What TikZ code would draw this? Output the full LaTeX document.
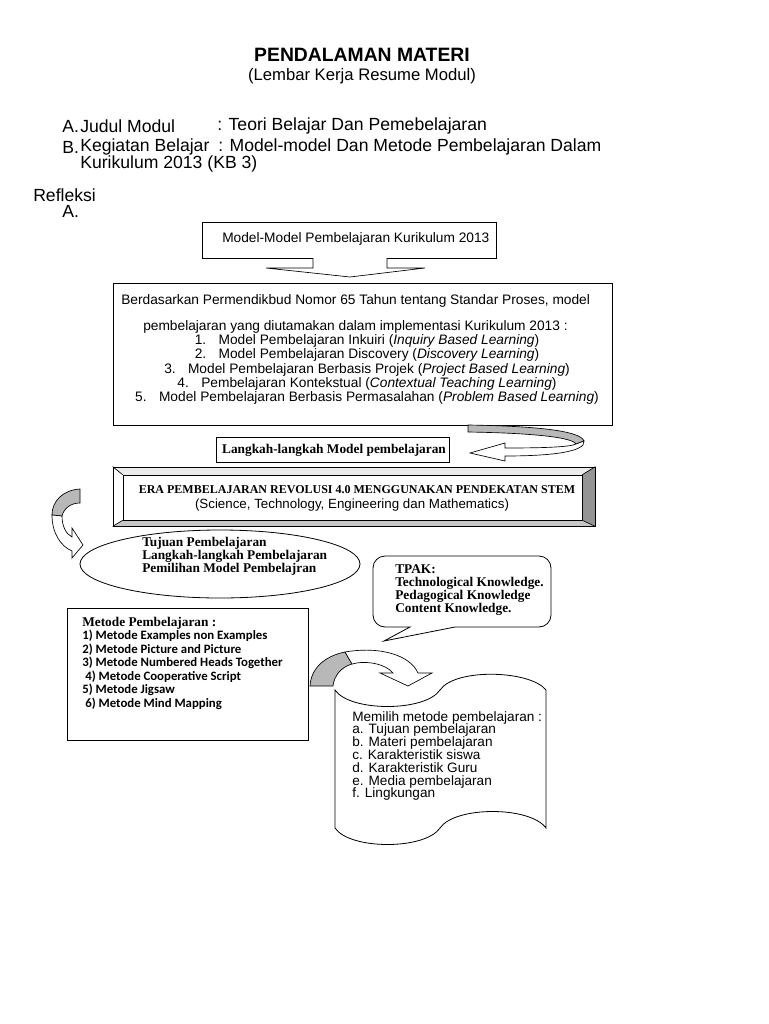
\documentclass[tikz,border=0pt]{standalone}
\usepackage{fontspec}
\setmainfont{Liberation Sans}
\newfontfamily\timesf{Liberation Serif}
\newfontfamily\calibrif{Carlito}
\usepackage{tikz}
\usetikzlibrary{shapes.geometric}
\tikzstyle{plain}=[draw=black,fill=white,line width=0.6pt]
\tikzstyle{band}=[draw=black,fill=black!28,line width=0.5pt]
\tikzstyle{blockarrow}=[draw=black,fill=white,line width=0.5pt]
\tikzstyle{head}=[inner sep=0pt,anchor=west,font=\fontsize{13.2}{15}\selectfont]
\tikzstyle{txt}=[inner sep=0pt,anchor=west,font=\fontsize{10.3}{12}\selectfont]
\tikzstyle{serif}=[inner sep=0pt,anchor=west,font=\timesf\bfseries\fontsize{10}{12}\selectfont]
\tikzstyle{cal}=[inner sep=0pt,anchor=west,font=\calibrif\bfseries\fontsize{9.6}{11}\selectfont]

\begin{document}
\begin{tikzpicture}[x=0.75pt,y=-0.75pt]
        \useasboundingbox (0,0) rectangle (768,1024);
        % header
        \node[font=\bfseries\fontsize{14.5}{17}\selectfont] (title) at (362,55) {PENDALAMAN MATERI};
        \node[font=\fontsize{12.5}{15}\selectfont] (subtitle) at (362,76) {(Lembar Kerja Resume Modul)};
        \node[head] (ha) at (62,126) {A.};
        \node[head] (hajudul) at (80,126) {Judul Modul};
        \node[head] (hateori) at (217,126) {: Teori Belajar Dan Pemebelajaran};
        \node[head] (hb) at (62,147) {B.};
        \node[head] (hbkeg) at (80,147) {Kegiatan Belajar};
        \node[head] (hbmodel) at (218,147) {: Model-model Dan Metode Pembelajaran Dalam};
        \node[head] (hbkur) at (80,164) {Kurikulum 2013 (KB 3)};
        \node[head] (refleksi) at (33,195) {Refleksi};
        \node[head] (ra) at (62,211) {A.};

        % model box and block arrow down
        \node[plain,minimum width=220.5pt,minimum height=27pt] (kurikulum) at (349,240) {};
        \node[txt] (kurtext) at (222,239) {Model-Model Pembelajaran Kurikulum 2013};
        \draw[blockarrow] (313,258) -- (313,268) -- (266,268) -- (350,277) -- (425,268) -- (387,268) -- (387,258);

        % standar proses box
        \node[plain,minimum width=374.25pt,minimum height=106.5pt] (standar) at (362.5,354) {};
        \node[txt] (std1) at (121,301) {Berdasarkan Permendikbud Nomor 65 Tahun tentang Standar Proses, model};
        \node[txt] (std2) at (143,327) {pembelajaran yang diutamakan dalam implementasi Kurikulum 2013 :};
        \foreach \t [count=\i] in {Model Pembelajaran Inkuiri (\textit{Inquiry Based Learning}),
            Model Pembelajaran Discovery (\textit{Discovery Learning}),
            Model Pembelajaran Berbasis Projek (\textit{Project Based Learning}),
            Pembelajaran Kontekstual (\textit{Contextual Teaching Learning}),
            Model Pembelajaran Berbasis Permasalahan (\textit{Problem Based Learning})}{
          \node[txt,anchor=center] (item\i) at (367,{341+14.3*(\i-1)}) {\i.\hspace{0.9em}\t};
        }

        % curved arrow back to langkah
        \draw[band] (468,425) .. controls (530,426) and (580,430) .. (584,441) -- (576,444) .. controls (572,437) and (530,433) .. (468,432) -- cycle;
        \draw[blockarrow] (584,441) .. controls (586,452) and (550,456) .. (505,456) -- (505,461) -- (470,453) -- (505,443) -- (505,448) .. controls (545,448) and (570,447) .. (576,444) -- cycle;
        \node[plain,minimum width=174.75pt,minimum height=18.75pt] (langkah) at (332.5,449.5) {};
        \node[serif,anchor=center] (langtext) at (334,450) {Langkah-langkah Model pembelajaran};

        % bevel box
        \fill[black!8] (113,467) -- (595,467) -- (582,475) -- (123,475) -- cycle;
        \fill[white] (113,467) -- (123,475) -- (123,520) -- (113,526) -- cycle;
        \fill[black!42] (595,467) -- (595,526) -- (582,520) -- (582,475) -- cycle;
        \fill[black!22] (113,526) -- (595,526) -- (582,520) -- (123,520) -- cycle;
        \node[draw,line width=0.6pt,minimum width=361.5pt,minimum height=44.25pt] (era) at (354,496.5) {};
        \node[draw,line width=0.5pt,minimum width=344.25pt,minimum height=33.75pt] (erain) at (352.5,497.5) {};
        \draw[line width=0.5pt] (era.north west) -- (erain.north west) (era.north east) -- (erain.north east)
          (era.south west) -- (erain.south west) (era.south east) -- (erain.south east);
        \node[serif,anchor=center,font=\timesf\bfseries\fontsize{9}{11}\selectfont] (eratext) at (357,490) {ERA PEMBELAJARAN REVOLUSI 4.0 MENGGUNAKAN PENDEKATAN STEM};
        \node[txt,anchor=center,font=\fontsize{10}{12}\selectfont] (stem) at (352,505) {(Science, Technology, Engineering dan Mathematics)};

        % curved arrow to ellipse
        \draw[band] (80,489) .. controls (63,490) and (52,501) .. (52,515) -- (62,516) .. controls (64,508) and (71,503) .. (80,503) -- cycle;
        \draw[blockarrow] (52,515) .. controls (52,532) and (60,546) .. (72,551) -- (72,558) -- (83,545) -- (72,528) -- (72,537) .. controls (66,534) and (62,526) .. (62,516) -- cycle;

        % ellipse
        \node[plain,ellipse,minimum width=210pt,minimum height=51pt] (tujuan) at (220,564) {};
        \foreach \t [count=\i] in {Tujuan Pembelajaran,Langkah-langkah Pembelajaran,Pemilihan Model Pembelajran}{
          \node[serif] (tuj\i) at (142,{543+13*(\i-1)}) {\t};
        }

        % TPAK callout
        \draw[plain] (460,556) [rounded corners=9pt] -- (373,556) -- (373,627) [sharp corners] -- (410,627) -- (384,641) -- (455,627) [rounded corners=9pt] -- (551,627) -- (551,556) -- cycle;
        \node[serif] (tpak) at (395,569) {TPAK:};
        \node[serif] (tpak1) at (395,583) {Technological Knowledge.};
        \node[serif] (tpak2) at (395,596) {Pedagogical Knowledge};
        \node[serif] (tpak3) at (395,609) {Content Knowledge.};

        % metode box
        \node[plain,minimum width=180.75pt,minimum height=99pt] (metode) at (187.5,674) {};
        \node[serif] (mettitle) at (82,623) {Metode Pembelajaran :};
        \node[cal] (met1) at (82,636) {1) Metode Examples non Examples};
        \node[cal] (met2) at (82,650) {2) Metode Picture and Picture};
        \node[cal] (met3) at (82,663) {3) Metode Numbered Heads Together};
        \node[cal] (met4) at (85,677) {4) Metode Cooperative Script};
        \node[cal] (met5) at (82,690) {5) Metode Jigsaw};
        \node[cal] (met6) at (85,704) {6) Metode Mind Mapping};

        % curved arrow to scroll
        \draw[band] (310,686) .. controls (311,668) and (325,656) .. (345,652) -- (352,664) .. controls (341,667) and (334,676) .. (333,686) -- cycle;
        \draw[blockarrow] (345,652) .. controls (380,646) and (410,655) .. (418,673) -- (432,673) -- (408,686) -- (380,673) -- (393,673) .. controls (386,664) and (366,660) .. (352,664) -- cycle;

        % scroll
        \draw[plain] (335,690) .. controls (350,712) and (425,712) .. (440,690) .. controls (455,668) and (530,670) .. (546,690)
          -- (546,828) .. controls (530,806) and (455,806) .. (440,828) .. controls (425,850) and (350,850) .. (335,828) -- cycle;
        \node[txt,anchor=north west,align=left,font=\fontsize{10.2}{9.6}\selectfont] (pilih) at (352,711) {Memilih metode pembelajaran :\\
          a. Tujuan pembelajaran\\ b. Materi pembelajaran\\ c. Karakteristik siswa\\
          d. Karakteristik Guru\\ e. Media pembelajaran\\ f. Lingkungan};
\end{tikzpicture}
\end{document}
